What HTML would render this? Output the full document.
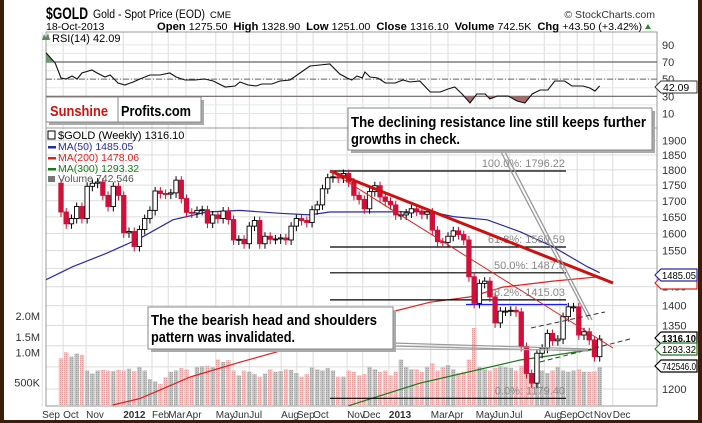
<!DOCTYPE html>
<html><head><meta charset="utf-8">
<style>
html,body{margin:0;padding:0;background:#fff;}
#wrap{position:relative;width:702px;height:423px;overflow:hidden;background:#fff;box-sizing:border-box;border-left:4px solid #3b1d0a;border-right:4px solid #3b1d0a;border-bottom:3px solid #3b1d0a;}
svg{position:absolute;left:-4px;top:0;}
text{font-family:"Liberation Sans",sans-serif;}
</style></head>
<body>
<div id="wrap">
<svg id="chart" width="702" height="423" viewBox="0 0 702 423"></svg>
</div>
<script>
// ---------- data ----------
const firstOpen = 1756;
const closes = [1665,1629,1645,1682,1645,1746,1756,1760,1717,1682,1746,1717,1602,1606,1562,1612,1645,1670,1731,1723,
1721,1725,1766,1707,1664,1662,1670,1672,1631,1656,1645,1668,1642,1581,1583,1570,1622,1639,1570,1592,
1583,1584,1587,1581,1622,1645,1639,1633,1672,1687,1738,1774,1777,1773,1788,1760,1717,1704,1675,1729,
1748,1712,1698,1687,1656,1656,1662,1675,1668,1658,1665,1610,1576,1574,1592,1608,1597,1581,1477,1406,
1459,1465,1423,1356,1386,1386,1388,1384,1298,1235,1213,1282,1294,1330,1312,1316,1372,1397,1397,1326,
1334,1314,1274,1316.1];
const volumes = [900,1000,930,980,960,700,650,700,710,700,
690,710,700,730,690,760,700,560,520,480,
590,680,700,740,720,600,760,770,780,760,
880,840,870,700,620,700,680,640,600,650,
720,680,690,720,710,660,600,640,750,720,
700,740,700,600,600,700,680,620,640,760,
720,680,700,620,680,880,760,720,720,680,
760,820,700,760,790,720,660,680,880,1400,
760,720,700,740,770,760,740,700,780,1000,
650,700,700,660,700,760,700,680,700,720,
680,680,690,760];
const rsiWeeks = [-2.9,-1.1,0,1,2.1,3.1,4,5.9,6.9,8.4,9.4,10.9,12.2,13.8,15.1,17,18.9,20.8,22,23.7,25.6,27.5,29.1,31.4,33.3,34.2,35.8,37.3,38.4,40.3,41.9,43.8,45.7,47.6,49.5,51.4,53.3,54.7,55.6,56.6,57.6,58.1,59.1,60.6,62,63.9,65.4,66.7,68.6,70.6,72.5,74,75.3,76.7,78.2,79.5,81.1,82,83.4,85.5,87.2,88.7,90.1,91.6,93.1,94.4,96.3,97.7,99.8,101.1,102.1,103];
const rsiValues = [80.8,68.8,51.3,50.2,53.7,50.2,57.2,60.7,57.2,52.5,54.8,45.5,43.2,46.7,50.2,54.8,54.8,57.2,52.5,49,49,50.2,47.8,40.8,42,46.7,43.2,42,44.3,44.3,47.8,49,57.2,65.3,66.5,67.7,56,51.3,49,53.7,51.3,58.3,52.5,51.3,45.5,45.5,49,46.7,47.8,35,35,38.5,40.8,32.7,22.2,32.7,32.7,26.9,30.4,30.4,24.5,22.2,32.7,37.3,37.3,47.8,47.8,42,42,39.7,36.2,42.09];
const ma50Weeks = [-2.9,2.3,8.8,15.1,21.4,27.9,34.2,41.9,47.6,51.4,70.6,75,81.5,87.8,94.1,100.6,103];
const ma50Values = [1469,1505,1543,1586,1641,1665,1670,1661,1656,1665,1666,1651,1641,1605,1561,1505,1488];
const ma200Weeks = [9.9,15.1,24.7,34.2,43.2,63.5,70.6,78.2,84.5,94.1,103];
const ma200Values = [1165,1179,1227,1261,1292,1385,1409,1423,1449,1465,1477];
const ma300Weeks = [54.9,68.6,87.8,103];
const ma300Values = [1163,1213,1266,1293];
const priceTicks = [1200,1250,1300,1350,1400,1450,1500,1550,1600,1650,1700,1750,1800,1850,1900];
const rsiTicks = [90,70,50,30,10];
const fibLabels = ["100.0%: 1796.22","61.8%: 1560.59","50.0%: 1487.8","38.2%: 1415.03","0.0%: 1179.40"];
const fibValues = [1796.22,1560.59,1487.8,1415.03,1179.40];
const monthLabels = ["Sep","Oct","Nov","2012","Feb","Mar","Apr","May","Jun","Jul","Aug","Sep","Oct","Nov","Dec","2013","Mar","Apr","May","Jun","Jul","Aug","Sep","Oct","Nov","Dec"];
const monthWeeks = [-3.6,0.4,4.8,11.9,17.4,20.5,23.9,29.6,32.9,36,42.1,45.1,48.2,54.7,57.7,62.7,70.7,74,79.3,82.6,85.8,92.4,95.4,98.7,101.9,105.5];
const volTicks = ["2.0M","1.5M","1.0M","500K"];
const volTickVals = [2000,1500,1000,500];

// ---------- scales ----------
const PL=46, PR=657;
const xW = w => 61 + w*5.23;
const yP = p => 171 + 540.4*Math.log(1796.22/p);
const yR = r => 62 + (70-r)*0.8575;
const yV = v => v>=1500 ? 337 - (v-1500)*0.042 : 352.3 - (v-1000)*0.0608;

const NS="http://www.w3.org/2000/svg";
const svgEl=document.getElementById('chart');
function mk(tag, attrs, parent){
  const e=document.createElementNS(NS,tag);
  for(const k in attrs) e.setAttribute(k,attrs[k]);
  (parent||svgEl).appendChild(e); return e;
}
function txt(s, attrs, parent){ const t=mk('text',attrs,parent); t.textContent=s; return t; }

// ---------- panels & grid ----------
const defs=mk('defs',{});
const pat=mk('pattern',{id:'pinkpat',width:2,height:2,patternUnits:'userSpaceOnUse'},defs);
mk('rect',{width:2,height:2,fill:'#f4c4c4'},pat);
mk('rect',{width:1,height:1,fill:'#e49a9a'},pat);
const pat2=mk('pattern',{id:'graypat',width:2,height:2,patternUnits:'userSpaceOnUse'},defs);
mk('rect',{width:2,height:2,fill:'#c4c4c4'},pat2);
mk('rect',{width:1,height:1,fill:'#a0a0a0'},pat2);
const cpTop=mk('clipPath',{id:'clipTop'},defs); mk('rect',{x:PL,y:32,width:PR-PL,height:yR(70)-32},cpTop);
const cpBot=mk('clipPath',{id:'clipBot'},defs); mk('rect',{x:PL,y:yR(30),width:PR-PL,height:128-yR(30)},cpBot);
const cpMain=mk('clipPath',{id:'clipMain'},defs); mk('rect',{x:PL,y:128,width:PR-PL,height:278},cpMain);

const grid=mk('g',{});
monthWeeks.forEach((w,i)=>{
  const x=xW(w);
  const gl=mk('line',{x1:x,x2:x,y1:32,y2:406,stroke:'#dcdcdc','stroke-width':1},grid);
  
  
});
for(let v=10; v<=90; v+=10){ mk('line',{x1:PL,x2:PR,y1:yR(v),y2:yR(v),stroke:'#e6e6e6'},grid); }
priceTicks.forEach(p=>{ mk('line',{x1:PL,x2:PR,y1:yP(p),y2:yP(p),stroke:'#dcdcdc'},grid); });

mk('rect',{x:PL,y:32,width:PR-PL,height:96,fill:'none',stroke:'#999',});
mk('rect',{x:PL,y:128,width:PR-PL,height:278,fill:'none',stroke:'#999',});

// ---------- header ----------
txt('$GOLD',{x:46,y:19,'font-size':17,'font-weight':'bold',textLength:42,lengthAdjust:'spacingAndGlyphs',});
txt('Gold - Spot Price (EOD)',{x:93,y:18,'font-size':11.5,textLength:112,lengthAdjust:'spacingAndGlyphs',});
txt('CME',{x:210,y:18,'font-size':9.5,});
txt('© StockCharts.com',{x:655,y:18,'font-size':10.5,'text-anchor':'end',fill:'#333',});
txt('18-Oct-2013',{x:46,y:30,'font-size':10.5,});
const hdr=txt('',{x:157,y:30,'font-size':10.5,});
hdr.setAttribute('style','white-space:pre');
[['Open ',1],['1275.50  ',0],['High ',1],['1328.90  ',0],['Low ',1],['1251.00  ',0],['Close ',1],['1316.10  ',0],['Volume ',1],['742.5K  ',0],['Chg ',1],['+43.50 (+3.42%) ',0]].forEach(([s,b])=>{
  const ts=mk('tspan',b?{'font-weight':'bold','font-size':11}:{},hdr); ts.textContent=s;
});
hdr.setAttribute('textLength',488); hdr.setAttribute('lengthAdjust','spacingAndGlyphs');
mk('path',{d:'M645 29 L651 29 L648 24 Z',fill:'#2a8a2a',});

// ---------- RSI ----------
const rsiG=mk('g',{});
[70,30].forEach(v=>mk('line',{x1:PL,x2:PR,y1:yR(v),y2:yR(v),stroke:'#666','stroke-width':1.2},rsiG));
mk('line',{x1:PL,x2:PR,y1:yR(50),y2:yR(50),stroke:'#666','stroke-dasharray':'6,2,1,2'},rsiG);
const rpts=rsiWeeks.map((w,i)=>[Math.max(PL,xW(w)),yR(rsiValues[i])]);
const rsiPath=rpts.map((p,i)=>(i?'L':'M')+p[0].toFixed(1)+' '+p[1].toFixed(1)).join(' ');
const rx0=rpts[0][0], rx1=rpts[rpts.length-1][0];
const rsiTopFill=mk('path',{d:rsiPath+` L${rx1} ${yR(70)} L${rx0} ${yR(70)} Z`,fill:'#6e9a6e','clip-path':'url(#clipTop)'},rsiG);


const rsiBotFill=mk('path',{d:rsiPath+` L${rx1} ${yR(30)} L${rx0} ${yR(30)} Z`,fill:'#a86a6a','clip-path':'url(#clipBot)'},rsiG);


const rl=mk('path',{d:rsiPath,fill:'none',stroke:'#111','stroke-width':1.1},rsiG);


rsiTicks.forEach(v=>{ const t=txt(String(v),{x:662,y:yR(v)+4,'font-size':11,fill:'#333'});   });
mk('path',{d:'M42 40 L44 34 L46 38 L48 33 L50 40 Z',fill:'#5a8a5a'});
txt('RSI(14) 42.09',{x:52,y:42,'font-size':11,});
mk('path',{d:'M655 87 L661 81 L697 81 L697 93 L661 93 Z',fill:'#fff',stroke:'#333'});
txt('42.09',{x:663,y:91,'font-size':10.5,});

// ---------- volume ----------
const volG=mk('g',{'clip-path':'url(#clipMain)'});
closes.forEach((c,i)=>{
  const o= i? closes[i-1] : firstOpen;
  const x=xW(i), y=yV(volumes[i]);
  const b=mk('rect',{x:x-2.2,y:y,width:4.4,height:406-y,fill:c<o?'url(#pinkpat)':'url(#graypat)'},volG);
  
  
});
volTicks.forEach((s,i)=>{ const t=txt(s,{x:40,y:yV(volTickVals[i])+4,'font-size':11,'text-anchor':'end',fill:'#333'});   });

// ---------- MAs ----------
function maLine(weeks, vals, color, name){
  const d=weeks.map((wk,i)=>(i?'L':'M')+Math.max(PL,xW(wk)).toFixed(1)+' '+yP(vals[i]).toFixed(1)).join(' ');
  const p=mk('path',{d:d,fill:'none',stroke:color,'stroke-width':1.2,'clip-path':'url(#clipMain)'});
  
  
}
maLine(ma50Weeks,ma50Values,'#2b2ba0','ma50-line');
maLine(ma200Weeks,ma200Values,'#e02020','ma200-line');
maLine(ma300Weeks,ma300Values,'#1a7a1a','ma300-line');

// ---------- fib lines ----------
fibValues.forEach((v,i)=>{
  const y=yP(v);
  const l=mk('line',{x1:330,x2:566,y1:y,y2:y,stroke:'#000','stroke-width':1.2});
  
  
  const t=txt(fibLabels[i],{x:565,y:y-4,'font-size':11,'text-anchor':'end',fill:'#888'});
  
  
});
mk('line',{x1:466,x2:567,y1:304.5,y2:304.5,stroke:'#1a1aff','stroke-width':1.3,});

// ---------- candles ----------
const cG=mk('g',{});
closes.forEach((c,i)=>{
  const o= i? closes[i-1] : firstOpen;
  const x=xW(i);
  const yo=yP(o), yc=yP(c);
  const hi=Math.min(yo,yc)-4, lo=Math.max(yo,yc)+5;
  const down=c<o;
  mk('line',{x1:x,x2:x,y1:hi,y2:lo,stroke:down?'#c8102e':'#000','stroke-width':1},cG);
  const b=mk('rect',{x:x-2.2,y:Math.min(yo,yc),width:4.4,height:Math.max(1,Math.abs(yc-yo)),fill:down?'#d0103a':'#fff',stroke:down?'#d0103a':'#000','stroke-width':0.9},cG);
  
  
});

// ---------- trend lines ----------
mk('line',{x1:330,y1:171,x2:613,y2:283,stroke:'#cc1010','stroke-width':3,});
mk('line',{x1:330,y1:171,x2:613,y2:348,stroke:'#e02020','stroke-width':1,});
mk('line',{x1:500,y1:150,x2:589,y2:320,stroke:'#999','stroke-width':1.3});
mk('line',{x1:504,y1:150,x2:592,y2:320,stroke:'#999','stroke-width':1.3});
mk('line',{x1:531,y1:328,x2:605,y2:312,stroke:'#333','stroke-dasharray':'5,3',});
mk('line',{x1:540,y1:362,x2:630,y2:339,stroke:'#333','stroke-dasharray':'5,3',});
mk('line',{x1:393,y1:343,x2:588,y2:349,stroke:'#999','stroke-width':1.2});
mk('line',{x1:393,y1:346,x2:588,y2:351,stroke:'#999','stroke-width':1.2});
mk('line',{x1:148,y1:348,x2:588,y2:350,stroke:'#aaa','stroke-width':1});

// ---------- price axis ----------
priceTicks.forEach(p=>{
  if(p===1250||p===1300||p===1500) return;
  const t=txt(String(p),{x:662,y:yP(p)+4,'font-size':11,fill:'#333'});
  
  
});
function tag(y,label,color,name){
  mk('path',{d:`M655 ${y} L661 ${y-6} L697 ${y-6} L697 ${y+6} L661 ${y+6} Z`,fill:'#fff',stroke:color,'stroke-width':1.2});
  const t=txt(label,{x:662,y:y+4,'font-size':10.5,fill:'#000','font-weight':name==='close-tag'?'bold':'normal',textLength:34,lengthAdjust:'spacingAndGlyphs'});
  
  
}
mk('path',{d:'M655 283 L661 277 L697 277 L697 289 L661 289 Z',fill:'#fff',stroke:'#e02020','stroke-width':1.2});
tag(275,'1485.05','#2b2ba0','ma50-tag');
tag(338,'1316.10','#000','close-tag');
tag(349,'1293.32','#1a7a1a','ma300-tag');
tag(366,'742546.0','#000','volume-tag');

// ---------- x axis ----------
monthLabels.forEach((s,i)=>{
  const t=txt(s,{x:xW(monthWeeks[i]),y:418,'font-size':10,fill:'#333','font-weight':(s==='2012'||s==='2013')?'bold':'normal'});
  
  
});

// ---------- legend ----------
const lg=mk('g',{});
txt('$GOLD (Weekly) 1316.10',{x:58,y:139,'font-size':11},lg);
mk('rect',{x:48,y:131,width:7,height:8,fill:'none',stroke:'#000'},lg);
[['MA(50) 1485.05','#2b2ba0',150],['MA(200) 1478.06','#e02020',161],['MA(300) 1293.32','#1a7a1a',172]].forEach(([s,c,y])=>{
  mk('rect',{x:48,y:y-4,width:8,height:2.5,fill:c},lg);
  txt(s,{x:58,y:y,'font-size':10.5,fill:c},lg);
});
mk('rect',{x:48,y:176,width:7,height:6,fill:'#777'},lg);
txt('Volume 742,546',{x:58,y:182,'font-size':10.5,fill:'#555'},lg);

// ---------- callouts ----------
function box(x,y,w,h,name){
  mk('rect',{x:x+3,y:y+3,width:w,height:h,fill:'#aaa'});
  const r=mk('rect',{x:x,y:y,width:w,height:h,fill:'#fff',stroke:'#888','stroke-width':1});
  
  
}
box(348,108,304,42,'callout-resistance');
txt('The declining resistance line still keeps further',{x:351,y:127,'font-size':15,'font-weight':'bold',textLength:295,lengthAdjust:'spacingAndGlyphs',});
txt('growths in check.',{x:351,y:144,'font-size':15,'font-weight':'bold',textLength:109,lengthAdjust:'spacingAndGlyphs',});
box(148,307,245,42,'callout-head-shoulders');
txt('The the bearish head and shoulders',{x:151,y:325,'font-size':15,'font-weight':'bold',textLength:226,lengthAdjust:'spacingAndGlyphs',});
txt('pattern was invalidated.',{x:151,y:342,'font-size':15,'font-weight':'bold',textLength:144,lengthAdjust:'spacingAndGlyphs',});
box(46,97,155,25,'sunshine-profits-logo');
mk('line',{x1:118,x2:118,y1:97,y2:122,stroke:'#888'});
txt('Sunshine',{x:50,y:116,'font-size':15,'font-weight':'bold',fill:'#d01010',textLength:58,lengthAdjust:'spacingAndGlyphs',});
txt('Profits.com',{x:121,y:116,'font-size':15,'font-weight':'bold',fill:'#000',textLength:70,lengthAdjust:'spacingAndGlyphs',});
</script>
</body></html>
